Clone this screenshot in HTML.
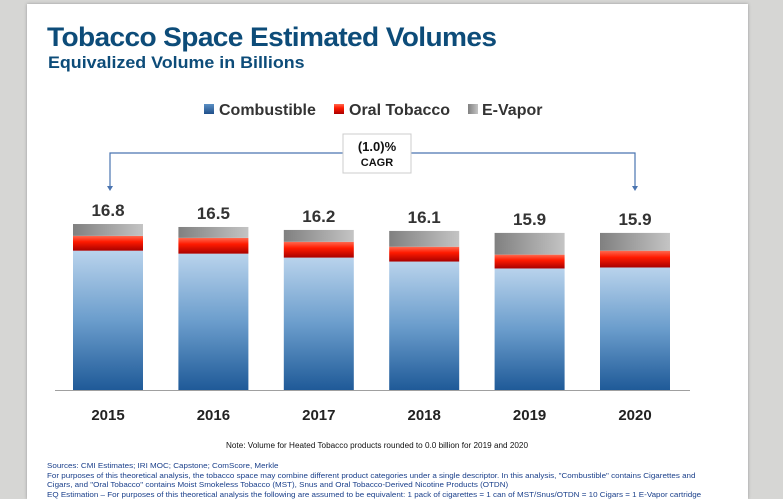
<!DOCTYPE html>
<html><head><meta charset="utf-8"><style>
body{margin:0;width:783px;height:499px;background:#d6d6d4;overflow:hidden;font-family:"Liberation Sans",sans-serif}
#card{position:absolute;left:27px;top:4px;width:721px;height:495px;background:#fff;box-shadow:0 0 3px #999}
.t{position:absolute;white-space:nowrap}
</style></head><body>
<div id="card"></div>
<div class="t" style="left:47px;top:22px;font-size:27px;font-weight:bold;color:#0d4c79;letter-spacing:-0.6px;transform:scaleX(1.04);transform-origin:left">Tobacco Space Estimated Volumes</div>
<div class="t" style="left:48px;top:53px;font-size:17px;font-weight:bold;color:#0d4c79;transform:scaleX(1.05);transform-origin:left">Equivalized Volume in Billions</div>
<svg width="783" height="499" style="position:absolute;left:0;top:0">
<defs>
<linearGradient id="gc" x1="0" y1="0" x2="0" y2="1"><stop offset="0" stop-color="#b9d3ec"/><stop offset="0.5" stop-color="#6b9dcc"/><stop offset="1" stop-color="#1f5a98"/></linearGradient>
<linearGradient id="go" x1="0" y1="0" x2="0" y2="1"><stop offset="0" stop-color="#ff6a50"/><stop offset="0.4" stop-color="#ff1a00"/><stop offset="1" stop-color="#a80000"/></linearGradient>
<linearGradient id="gv" x1="0" y1="0" x2="1" y2="0"><stop offset="0" stop-color="#808080"/><stop offset="1" stop-color="#c4c4c4"/></linearGradient>
<linearGradient id="lc" x1="0" y1="0" x2="0" y2="1"><stop offset="0" stop-color="#5b8fc4"/><stop offset="1" stop-color="#1f4f8a"/></linearGradient>
</defs>
<g id="bars"></g>
<line x1="55" y1="390.5" x2="690" y2="390.5" stroke="#a0a0a0" stroke-width="1"/>
<g font-size="16" font-weight="bold" fill="#333">
<g><rect x="204" y="104" width="10" height="10" fill="url(#lc)"/><text x="219" y="115">Combustible</text></g>
<g><rect x="334" y="104" width="10" height="10" fill="url(#go)"/><text x="349" y="115">Oral Tobacco</text></g>
<g><rect x="468" y="104" width="10" height="10" fill="url(#gv)"/><text x="482" y="115">E-Vapor</text></g>
</g>
<g stroke="#4a74b0" stroke-width="1.2" fill="none">
<polyline points="110,188 110,153 635,153 635,188"/>
</g>
<polygon points="107,186 113,186 110,191" fill="#4a74b0"/>
<polygon points="632,186 638,186 635,191" fill="#4a74b0"/>
<rect x="343" y="134" width="68" height="39" fill="#fff" stroke="#ccc"/>
<text x="377" y="151" text-anchor="middle" font-size="13" font-weight="bold" fill="#111">(1.0)%</text>
<text x="377" y="166" text-anchor="middle" font-size="11" font-weight="bold" fill="#111">CAGR</text>
<g id="labels"></g>
</svg>
<div class="t" style="left:226px;top:441px;font-size:8px;color:#111;transform:scaleX(1.02);transform-origin:left">Note: Volume for Heated Tobacco products rounded to 0.0 billion for 2019 and 2020</div>
<div class="t" style="left:47px;top:461px;font-size:7.3px;line-height:9.5px;color:#1a3f8a;transform:scaleX(1.1);transform-origin:left">Sources: CMI Estimates; IRI MOC; Capstone; ComScore, Merkle<br>For purposes of this theoretical analysis, the tobacco space may combine different product categories under a single descriptor. In this analysis, "Combustible" contains Cigarettes and<br>Cigars, and "Oral Tobacco" contains Moist Smokeless Tobacco (MST), Snus and Oral Tobacco-Derived Nicotine Products (OTDN)<br>EQ Estimation – For purposes of this theoretical analysis the following are assumed to be equivalent: 1 pack of cigarettes = 1 can of MST/Snus/OTDN = 10 Cigars = 1 E-Vapor cartridge</div>
<script>
const years=["2015","2016","2017","2018","2019","2020"];
const combustible=[14.1,13.8,13.4,13.0,12.3,12.4];
const oral=[1.5,1.6,1.6,1.5,1.4,1.7];
const vapor=[1.2,1.1,1.2,1.6,2.2,1.8];
const totals=["16.8","16.5","16.2","16.1","15.9","15.9"];
const base=390,scale=9.88,x0=108,step=105.4,bw=70;
const xs=i=>x0+i*step;
const ys=v=>v*scale;
const NS="http://www.w3.org/2000/svg";
const gb=document.getElementById('bars'),gl=document.getElementById('labels');
years.forEach((y,i)=>{
  let cur=base;
  [[combustible[i],'url(#gc)','combustible'],[oral[i],'url(#go)','oral-tobacco'],[vapor[i],'url(#gv)','e-vapor']].forEach(([v,f,n])=>{
    const h=ys(v);const r=document.createElementNS(NS,'rect');
    r.setAttribute('x',xs(i)-bw/2);r.setAttribute('y',cur-h);r.setAttribute('width',bw);r.setAttribute('height',h);r.setAttribute('fill',f);
    
    
    gb.appendChild(r);cur-=h;
  });
  const t=document.createElementNS(NS,'text');
  t.setAttribute('x',xs(i));t.setAttribute('y',cur-8);t.setAttribute('text-anchor','middle');t.setAttribute('font-size','17');t.setAttribute('font-weight','bold');t.setAttribute('fill','#333');
  t.textContent=totals[i];
  
  
  gl.appendChild(t);
  const yl=document.createElementNS(NS,'text');
  yl.setAttribute('x',xs(i));yl.setAttribute('y',420);yl.setAttribute('text-anchor','middle');yl.setAttribute('font-size','15');yl.setAttribute('font-weight','bold');yl.setAttribute('fill','#222');
  yl.textContent=y;
  
  
  gl.appendChild(yl);
});
</script>
</body></html>
